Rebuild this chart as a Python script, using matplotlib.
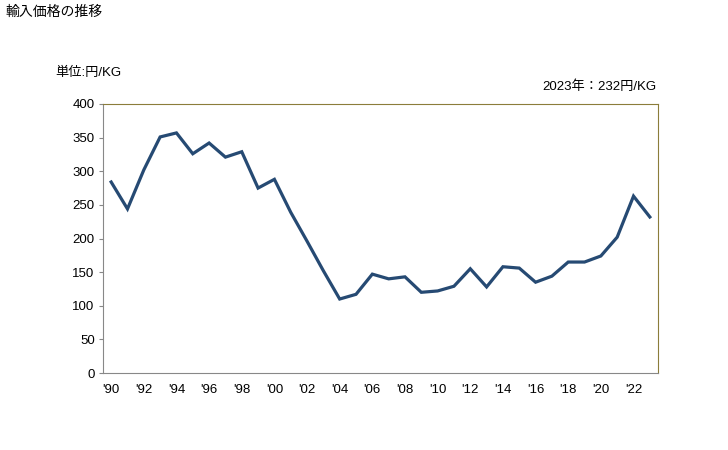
import numpy as np
import matplotlib.pyplot as plt

# Data
# ===================================
years = list(range(1990, 2024))
prices = [284, 244, 302, 351, 357, 326, 342, 321, 329, 275,
          288, 239, 196, 152, 110, 117, 147, 140, 143, 120,
          122, 129, 155, 128, 158, 156, 135, 144, 165, 165,
          174, 202, 263, 232]
tick_years = list(range(1990, 2023, 2))
tick_labels = ["'" + str(y)[2:] for y in tick_years]
y_ticks = list(range(0, 401, 50))

plt.rcParams['font.family'] = ['Liberation Sans', 'Noto Sans CJK JP', 'DejaVu Sans']

# Graph
# ===================================
fig = plt.figure(figsize=(7.28, 4.5), dpi=100)
ax = fig.add_axes([103 / 728, 1 - 373 / 450, 555 / 728, 269 / 450])

ax.plot(years, prices, color="#264a73", linewidth=2.3, solid_joinstyle="miter")

ax.set_xlim(1989.5, 2023.5)
ax.set_ylim(0, 400)
ax.set_yticks(y_ticks)
ax.set_xticks(tick_years)
ax.set_xticklabels(tick_labels)
ax.tick_params(axis="y", length=3, color="#888888", labelsize=9.5, pad=3)
ax.tick_params(axis="x", length=0, labelsize=9.5, pad=8)

for side in ["left", "bottom"]:
    ax.spines[side].set_color("#888888")
for side in ["top", "right"]:
    ax.spines[side].set_color("#8b7d3a")

fig.text(5 / 728, 1 - 12 / 450, "輸入価格の推移", fontsize=10, va="center", ha="left")
fig.text(55 / 728, 1 - 73 / 450, "単位:円/KG", fontsize=9.5, va="center", ha="left")
fig.text(656 / 728, 1 - 87 / 450, "2023年：232円/KG", fontsize=9.5, va="center", ha="right")

fig.savefig("out.png", dpi=100)
